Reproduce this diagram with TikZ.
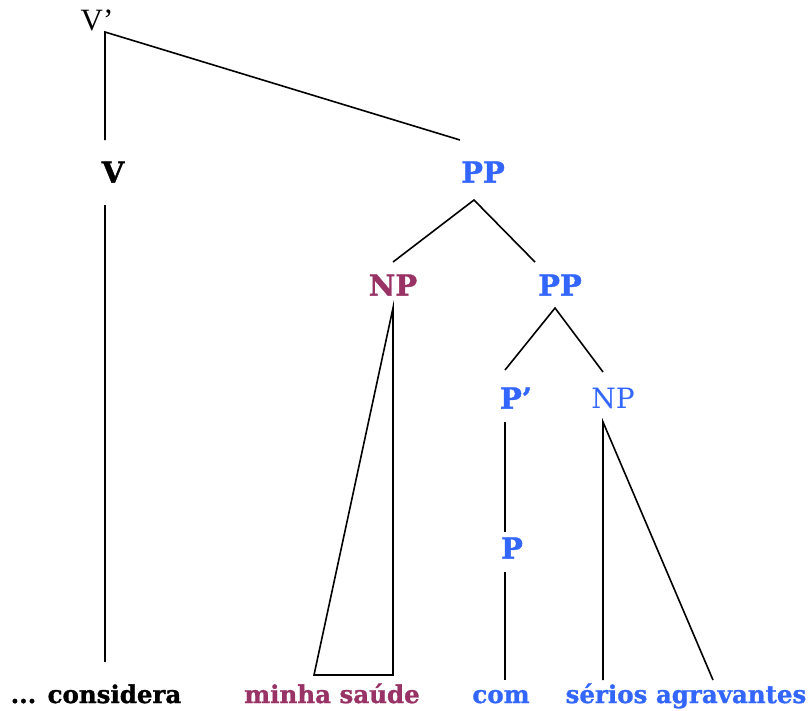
\documentclass[tikz,border=0pt]{standalone}
\usepackage{fontspec}
\setmainfont{Liberation Serif}
\newfontfamily\treebf{DejaVu Serif}[BoldFeatures={FakeBold=1.2}]
\definecolor{pblue}{RGB}{51,102,255}
\definecolor{npred}{RGB}{153,51,102}

\begin{document}
\begin{tikzpicture}[x=1pt,y=-1pt,line width=1.6pt,
    cat/.style={font=\treebf\bfseries\fontsize{29}{34}\selectfont},
    plain/.style={font=\fontsize{31}{36}\selectfont},
    word/.style={anchor=base,font=\treebf\bfseries\fontsize{24.5}{29}\selectfont}]
            \useasboundingbox (0,0) rectangle (808,710);
            \node[plain] (Vbar) at (97,20) {V’};
            \node[cat] (V) at (113,172) {V};
            \node[cat,pblue] (PPtop) at (483,172) {PP};
            \node[cat,npred] (NPm) at (393,285) {NP};
            \node[cat,pblue] (PPin) at (560,285) {PP};
            \node[cat,pblue] (Pbar) at (516,398) {P’};
            \node[pblue,font=\treebf\fontsize{28}{33}\selectfont] (NPl) at (613,398) {NP};
            \node[cat,pblue] (P) at (512,548) {P};
            \begin{scope}[every node/.style={word}]
            \node (w1) at (96,703) {... considera};
            \node[npred] (w2) at (332,703) {minha saúde};
            \node[pblue] (w3) at (501,703) {com};
            \node[pblue] (w4) at (686,703) {sérios agravantes};
            \end{scope}
            
            \draw ([shift={(-23,-32)}]PPtop.center) -- ([shift={(8,12)}]Vbar.center) -- ([shift={(-8,-32)}]V.center);
            \draw ([shift={(-8,33)}]V.center) -- ([shift={(9,-41)}]w1.base);
            \draw ([shift={(0,-23)}]NPm.center) -- ([shift={(-9,28)}]PPtop.center) -- ([shift={(-25,-23)}]PPin.center);
            \draw ([shift={(0,23)}]NPm.center) -- ([shift={(61,-28)}]w2.base) -- ([shift={(-18,-28)}]w2.base) -- cycle;
            \draw ([shift={(-11,-28)}]Pbar.center) -- ([shift={(-5,23)}]PPin.center) -- ([shift={(-10,-26)}]NPl.center);
            \draw ([shift={(-11,24)}]Pbar.center) -- ([shift={(-7,-16)}]P.center);
            \draw ([shift={(-7,24)}]P.center) -- ([shift={(4,-23)}]w3.base);
            \draw ([shift={(-83,-23)}]w4.base) -- ([shift={(-10,24)}]NPl.center) -- ([shift={(27,-23)}]w4.base);
\end{tikzpicture}
\end{document}
